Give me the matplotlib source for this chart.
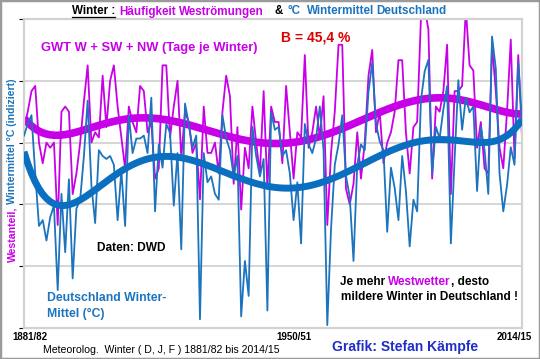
import numpy as np
import matplotlib
matplotlib.use('Agg')
from matplotlib import pyplot as plt
from matplotlib.patches import Rectangle

plt.rcParams['font.family'] = ['Liberation Sans', 'DejaVu Sans']

# Winter 1881/82 .. 2014/15 (DJF)
first_winter = 1881
last_winter = 2014

# Winter mean temperature Germany, deg C
temp_c = [
    1.0, 1.4, 1.7, -0.3, -2.1, -1.9, -2.6, -1.8, -1.4, -4.3,
    -1.0, -3.0, -0.5, -3.9, -1.5, -1.2, 0.3, 2.2, -0.7, -2.0,
    0.5, 0.3, 0.2, 0.3, 0.0, -1.9, -0.2, -2.1, 1.7, 0.4,
    0.9, 0.9, 1.0, 0.4, 2.3, -1.6, 0.7, -0.1, 1.4, 1.1,
    -1.4, 0.4, -2.9, 2.1, 1.4, 0.6, 1.0, -5.3, 0.4, -0.6,
    -0.4, -1.0, -1.2, 1.7, 0.9, 0.5, -0.4, 0.3, -5.2, -3.3,
    -4.5, 1.3, 0.3, -0.4, 0.2, -5.0, 1.8, 1.2, 1.3, 0.3,
    0.5, -0.3, -1.9, -0.6, -2.7, 1.4, 0.7, 0.4, 0.9, 2.0,
    0.5, -5.5, -2.2, 0.0, 0.7, 1.7, -0.4, -1.1, -3.3, 0.0,
    0.7, 0.5, 2.5, 3.5, 1.4, 0.8, 0.5, -2.3, -0.1, -0.8,
    -1.9, 0.3, -0.9, -2.8, -1.2, -1.6, 2.2, 3.2, 3.6, -0.3,
    1.3, 0.9, 1.9, 2.7, -2.7, 0.2, 2.9, 1.2, 2.3, 1.8,
    2.0, -0.9, 1.3, 0.5, -1.0, 4.4, 3.3, -0.3, -1.6, -0.7,
    0.6, 0.0, 3.5, 1.5]

# Days with GWT W + SW + NW per winter
west_days = [
    39, 42, 46, 47, 36, 32, 36, 35, 36, 20,
    42, 43, 42, 26, 30, 36, 44, 51, 36, 38,
    37, 49, 39, 48, 51, 43, 37, 31, 43, 40,
    38, 47, 46, 38, 40, 29, 31, 51, 51, 37,
    43, 48, 33, 42, 40, 34, 36, 25, 43, 34,
    34, 36, 30, 42, 49, 45, 28, 39, 23, 35,
    31, 43, 36, 30, 46, 27, 43, 40, 40, 32,
    47, 38, 29, 38, 37, 53, 35, 38, 43, 37,
    45, 20, 34, 42, 55, 55, 27, 24, 28, 38,
    29, 36, 49, 54, 38, 42, 32, 36, 38, 42,
    52, 52, 38, 30, 39, 40, 60, 62, 58, 29,
    43, 42, 46, 55, 26, 46, 46, 47, 62, 51,
    50, 35, 40, 31, 30, 55, 46, 35, 31, 42,
    56, 33, 53, 37]

tick_labels = ['1881/82', '1950/51', '2014/15']

MAGENTA = '#c800e8'
BLUE = '#1b74bd'
BLUE_TREND = '#0a6fc0'

W, H = 540, 359


def fx(px):
    return px / W


def fy(py):
    return 1 - py / H


def trend(values, deg=6):
    x = np.arange(len(values))
    p = np.polynomial.Polynomial.fit(x, values, deg)
    return p(x)


def pieces_h(fig, x_px, y_px, pieces, size, weight='bold'):
    """Draw coloured text pieces left to right; a leading space adds a gap."""
    r = fig.canvas.get_renderer()
    probe = fig.text(0, 0, 'x x', fontsize=size, weight=weight)
    probe2 = fig.text(0, 0, 'xx', fontsize=size, weight=weight)
    sp = probe.get_window_extent(r).width - probe2.get_window_extent(r).width
    probe.remove()
    probe2.remove()
    pos = x_px
    for s, color in pieces:
        n = len(s) - len(s.lstrip(' '))
        pos += n * sp
        t = fig.text(fx(pos), fy(y_px), s.strip(), color=color, fontsize=size,
                     weight=weight, ha='left', va='center')
        pos += t.get_window_extent(r).width


fig = plt.figure(figsize=(W / 100, H / 100), dpi=100)
fig.patch.set_facecolor('white')

left, right, top, bottom = 24, 522, 19, 328
ax = fig.add_axes([fx(left), fy(bottom), fx(right - left), (bottom - top) / H])

idx = np.arange(len(temp_c))

ax.set_xlim(0, len(idx) - 1)
ax.set_ylim(0, 60)
ax.set_yticks(np.linspace(0, 60, 6))
ax.set_xticks([])
ax.tick_params(left=False, labelleft=False)
ax.grid(axis='y', color='#d2d2d2', lw=1.3)
for s in ax.spines.values():
    s.set_color('#d2d2d2')
    s.set_linewidth(1.6)

ax.plot(idx, west_days, color=MAGENTA, lw=1.3)
ax.plot(idx, trend(west_days), color=MAGENTA, lw=5.5, solid_capstyle='butt')

ax2 = ax.twinx()
ax2.set_ylim(-5.6, 5.0)
ax2.axis('off')
ax2.plot(idx, temp_c, color=BLUE, lw=1.3)
ax2.plot(idx, trend(temp_c), color=BLUE_TREND, lw=5.0, solid_capstyle='butt')

# outer frame
fig.patches.append(Rectangle((0, 0), 1, 1, transform=fig.transFigure,
                             fill=False, edgecolor='#9a9a9a', lw=2.5))

# title words
title_words = [('Winter :', 'black', 71.5), ('Häufigkeit', MAGENTA, 119),
               ('Weströmungen', MAGENTA, 179), ('&', 'black', 274.5),
               ('°C', BLUE, 287), ('Wintermittel', BLUE, 306.5),
               ('Deutschland', BLUE, 376.5)]
r = fig.canvas.get_renderer()
for word, color, xp in title_words:
    t = fig.text(fx(xp), fy(11.5), word, color=color, fontsize=8.4,
                 weight='bold', ha='left', va='center')
    if word == 'Winter :':
        bb = t.get_window_extent(r)
        fig.add_artist(plt.Line2D([bb.x0 / W, bb.x1 / W], [fy(17.2)] * 2,
                                  color='black', lw=0.9))

fig.text(fx(41), fy(48), 'GWT W + SW + NW (Tage je Winter)', color=MAGENTA,
         fontsize=9.3, weight='bold', ha='left', va='center')
fig.text(fx(281), fy(37), 'B = 45,4 %', color='#e00000', fontsize=10,
         weight='bold', ha='left', va='center')

fig.text(fx(97), fy(248), 'Daten: DWD', color='black', fontsize=8.6,
         weight='bold', ha='left', va='center')
fig.text(fx(47), fy(298), 'Deutschland Winter-', color=BLUE, fontsize=8.8,
         weight='bold', ha='left', va='center')
fig.text(fx(47), fy(314), 'Mittel (°C)', color=BLUE, fontsize=8.8,
         weight='bold', ha='left', va='center')

pieces_h(fig, 340, 282, [('Je mehr', 'black'), (' Westwetter', MAGENTA),
                         (', desto', 'black')], 8.5)
fig.text(fx(341), fy(297), 'mildere Winter in Deutschland !', color='black',
         fontsize=8.5, weight='bold', ha='left', va='center')

# vertical axis label, two colours
t1 = fig.text(fx(12.5), fy(262), 'Westanteil,', color=MAGENTA, fontsize=7.6,
              weight='bold', rotation=90, ha='center', va='bottom')
h1 = t1.get_window_extent(r).height
fig.text(fx(12.5), fy(262 - h1 - 3), 'Wintermittel °C (indiziert)', color=BLUE,
         fontsize=7.6, weight='bold', rotation=90, ha='center', va='bottom')

# category labels
for lab, xc in zip(tick_labels, [29.5, 293.5, 514]):
    fig.text(fx(xc), fy(336.5), lab, fontsize=7, weight='bold',
             ha='center', va='center')

fig.text(fx(43), fy(350), 'Meteorolog.  Winter ( D, J, F ) 1881/82 bis 2014/15',
         fontsize=7.6, ha='left', va='center')
fig.text(fx(332), fy(347), 'Grafik: Stefan Kämpfe', color='#1e2ec8',
         fontsize=10, weight='bold', ha='left', va='center')

fig.savefig('out.png', dpi=100)
